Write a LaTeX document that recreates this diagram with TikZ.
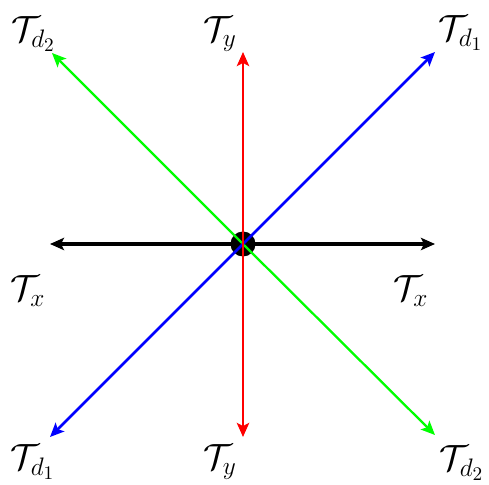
\documentclass[tikz,border=0pt]{standalone}
\usetikzlibrary{arrows.meta}

\tikzset{
  freccia/.style={->, line width=1.6pt},
  etichetta/.style={font=\fontsize{21}{25}\selectfont, inner sep=0pt}
}

\begin{document}
\begin{tikzpicture}[x=1cm, y=1cm, >={Stealth[length=8pt,width=7pt,inset=1.8pt]}]
\useasboundingbox (-4.86,-4.82) rectangle (4.92,4.88);

% Origine
\node[circle, fill=black, minimum size=0.5cm, inner sep=0pt] (O) at (0,0) {};

% Estremi delle frecce
\coordinate (xs) at (-3.86,0);
\coordinate (xd) at (3.84,0);
\coordinate (ya) at (0,3.84);
\coordinate (yb) at (0,-3.86);
\coordinate (da) at (3.84,3.84);
\coordinate (db) at (-3.86,-3.86);
\coordinate (ea) at (-3.82,3.82);
\coordinate (eb) at (3.84,-3.82);

% Frecce
\draw[freccia, black, line width=1.8pt] (O.center) -- (xs);
\draw[freccia, black, line width=1.8pt] (O.center) -- (xd);
\draw[freccia, green, line width=1.3pt] (O.center) -- (ea);
\draw[freccia, green, line width=1.3pt] (O.center) -- (eb);
\draw[freccia, blue] (O.center) -- (da);
\draw[freccia, blue] (O.center) -- (db);
\draw[freccia, red] (O.center) -- (ya);
\draw[freccia, red] (O.center) -- (yb);

% Etichette
\node[etichetta] (Tea) at (-4.19,4.2) {$\mathcal{T}_{d_2}$};
\node[etichetta] (Tya) at (-0.46,4.2) {$\mathcal{T}_{y}$};
\node[etichetta] (Tda) at (4.36,4.22) {$\mathcal{T}_{d_1}$};
\node[etichetta] (Txs) at (-4.3,-0.94) {$\mathcal{T}_{x}$};
\node[etichetta] (Txd) at (3.36,-0.94) {$\mathcal{T}_{x}$};
\node[etichetta] (Tdb) at (-4.2,-4.36) {$\mathcal{T}_{d_1}$};
\node[etichetta] (Tyb) at (-0.46,-4.36) {$\mathcal{T}_{y}$};
\node[etichetta] (Teb) at (4.38,-4.38) {$\mathcal{T}_{d_2}$};

\end{tikzpicture}
\end{document}
